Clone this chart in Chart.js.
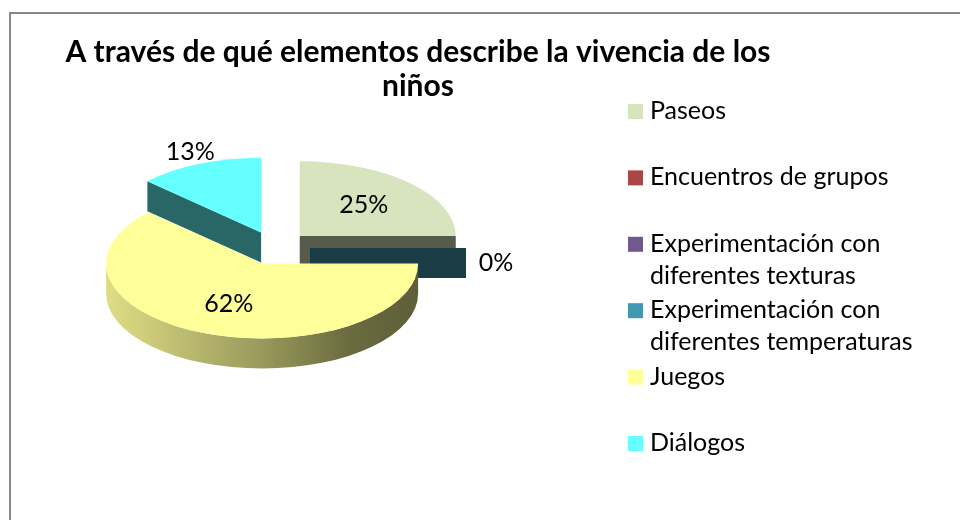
<!DOCTYPE html>
<html>
<head>
<meta charset="utf-8">
<script src="https://cdn.jsdelivr.net/npm/chart.js@4.4.1/dist/chart.umd.min.js"></script>
<style>
  html, body { margin: 0; padding: 0; background: #fff; }
  canvas { display: block; }
</style>
</head>
<body>
<canvas id="pieChart" width="960" height="520"></canvas>
<script>
const titleLines = ['A través de qué elementos describe la vivencia de los', 'niños'];
const categories = ['Paseos', 'Encuentros de grupos', 'Experimentación con diferentes texturas',
  'Experimentación con diferentes temperaturas', 'Juegos', 'Diálogos'];
const legendLines = [['Paseos'], ['Encuentros de grupos'], ['Experimentación con', 'diferentes texturas'],
  ['Experimentación con', 'diferentes temperaturas'], ['Juegos'], ['Diálogos']];
const percentages = [25, 0, 0, 0, 62, 13];
const sliceColors = ['#D7E4BD', '#AA4644', '#71588F', '#4198AF', '#FFFF99', '#66FFFF'];

// fake 3d look
const TILT = 0.48;    // vertical squash
const DEPTH = 30;     // thickness of the pie
const EXPLODE = 35;   // pull out of every slice
const FONT = 'Lato, "Open Sans", sans-serif';

function shade(hex, f) {
  const n = parseInt(hex.slice(1), 16);
  const r = Math.round(((n >> 16) & 255) * f);
  const g = Math.round(((n >> 8) & 255) * f);
  const b = Math.round((n & 255) * f);
  return 'rgb(' + r + ',' + g + ',' + b + ')';
}

// slice geometry from the arc element chart.js laid out
function sliceGeom(arc) {
  const p = arc.getProps(['x', 'y', 'startAngle', 'endAngle', 'outerRadius']);
  const mid = (p.startAngle + p.endAngle) / 2;
  return {
    cx: p.x + Math.cos(mid) * EXPLODE,
    cy: p.y + Math.sin(mid) * EXPLODE * TILT,
    r: p.outerRadius,
    ry: p.outerRadius * TILT,
    start: p.startAngle,
    end: p.endAngle,
    mid: mid
  };
}

function drawWalls(ctx, g, color) {
  // cut faces along the radii, only those turned to the viewer
  const faces = [];
  if (Math.cos(g.start) < -0.01) faces.push(g.start);
  if (Math.cos(g.end) > 0.01) faces.push(g.end);
  faces.forEach(function (a) {
    const ex = g.cx + g.r * Math.cos(a);
    const ey = g.cy + g.ry * Math.sin(a);
    ctx.beginPath();
    ctx.moveTo(g.cx, g.cy);
    ctx.lineTo(ex, ey);
    ctx.lineTo(ex, ey + DEPTH);
    ctx.lineTo(g.cx, g.cy + DEPTH);
    ctx.closePath();
    ctx.fillStyle = shade(color, 0.4);
    ctx.fill();
  });

  // outer rim, front half only
  const TAU = Math.PI * 2;
  const s = ((g.start % TAU) + TAU) % TAU;
  const e = s + (g.end - g.start);
  [[0, Math.PI], [TAU, TAU + Math.PI]].forEach(function (range) {
    const a = Math.max(s, range[0]);
    const b = Math.min(e, range[1]);
    if (b - a < 1e-4) return;
    ctx.beginPath();
    ctx.ellipse(g.cx, g.cy, g.r, g.ry, 0, a, b);
    ctx.ellipse(g.cx, g.cy + DEPTH, g.r, g.ry, 0, b, a, true);
    ctx.closePath();
    const grad = ctx.createLinearGradient(g.cx - g.r, 0, g.cx + g.r, 0);
    grad.addColorStop(0, shade(color, 0.87));
    grad.addColorStop(0.5, shade(color, 0.6));
    grad.addColorStop(0.78, shade(color, 0.42));
    grad.addColorStop(1, shade(color, 0.37));
    ctx.fillStyle = grad;
    ctx.fill();
  });
}

const pie3d = {
  id: 'pie3d',
  beforeDatasetsDraw(chart) {
    const ctx = chart.ctx;
    const arcs = chart.getDatasetMeta(0).data;
    const colors = chart.data.datasets[0].backgroundColor;
    const values = chart.data.datasets[0].data;
    const geoms = arcs.map(sliceGeom);

    ctx.save();
    geoms.forEach(function (g, i) { drawWalls(ctx, g, colors[i]); });

    geoms.forEach(function (g, i) {
      if (g.end - g.start < 1e-4) return;
      ctx.beginPath();
      ctx.moveTo(g.cx, g.cy);
      ctx.ellipse(g.cx, g.cy, g.r, g.ry, 0, g.start, g.end);
      ctx.closePath();
      ctx.fillStyle = colors[i];
      ctx.fill();
    });

    // percentage labels (zero slices stack on one spot, print it once)
    ctx.font = '25px ' + FONT;
    ctx.fillStyle = '#000';
    ctx.textAlign = 'center';
    ctx.textBaseline = 'middle';
    const done = {};
    geoms.forEach(function (g, i) {
      const v = values[i];
      const c = Math.cos(g.mid), sn = Math.sin(g.mid);
      let lx, ly;
      if (v >= 20) {
        const d = g.r * 0.58;
        lx = g.cx + c * d;
        ly = g.cy + sn * d * TILT;
      } else {
        const d = g.r + 30;
        lx = g.cx + c * d + 8 * sn * c;
        ly = g.cy + sn * d * TILT + DEPTH / 2 * (1 - Math.abs(sn));
      }
      const key = Math.round(lx) + ',' + Math.round(ly);
      if (done[key]) return;
      done[key] = true;
      ctx.fillText(v + '%', lx, ly);
    });
    ctx.restore();
    return false;
  }
};

const decorations = {
  id: 'decorations',
  beforeDraw(chart) {
    const ctx = chart.ctx;
    ctx.save();
    ctx.fillStyle = '#fff';
    ctx.fillRect(0, 0, chart.width, chart.height);
    ctx.strokeStyle = '#878787';
    ctx.lineWidth = 2;
    ctx.beginPath();
    ctx.moveTo(10, chart.height);
    ctx.lineTo(10, 13);
    ctx.lineTo(chart.width, 13);
    ctx.stroke();
    ctx.restore();
  },
  afterDraw(chart) {
    const ctx = chart.ctx;
    ctx.save();
    ctx.fillStyle = '#000';
    ctx.textAlign = 'center';
    ctx.textBaseline = 'alphabetic';
    ctx.font = 'bold 30px ' + FONT;
    titleLines.forEach(function (t, i) { ctx.fillText(t, 418, 62 + i * 34); });

    ctx.font = '25px ' + FONT;
    ctx.textAlign = 'left';
    ctx.textBaseline = 'middle';
    legendLines.forEach(function (lines, i) {
      const y = 111 + i * 66.4;
      ctx.fillStyle = chart.data.datasets[0].backgroundColor[i];
      ctx.fillRect(628, y - 7, 15, 15);
      ctx.fillStyle = '#000';
      lines.forEach(function (t, j) { ctx.fillText(t, 650, y + j * 32); });
    });
    ctx.restore();
  }
};

new Chart(document.getElementById('pieChart'), {
  type: 'pie',
  data: {
    labels: categories,
    datasets: [{
      data: percentages,
      backgroundColor: sliceColors,
      borderWidth: 0,
      radius: 156
    }]
  },
  options: {
    responsive: false,
    animation: false,
    layout: { padding: { left: 0, right: 410, top: 0, bottom: 24 } },
    plugins: {
      legend: { display: false },
      title: { display: false },
      tooltip: { enabled: false }
    }
  },
  plugins: [pie3d, decorations]
});
</script>
</body>
</html>
